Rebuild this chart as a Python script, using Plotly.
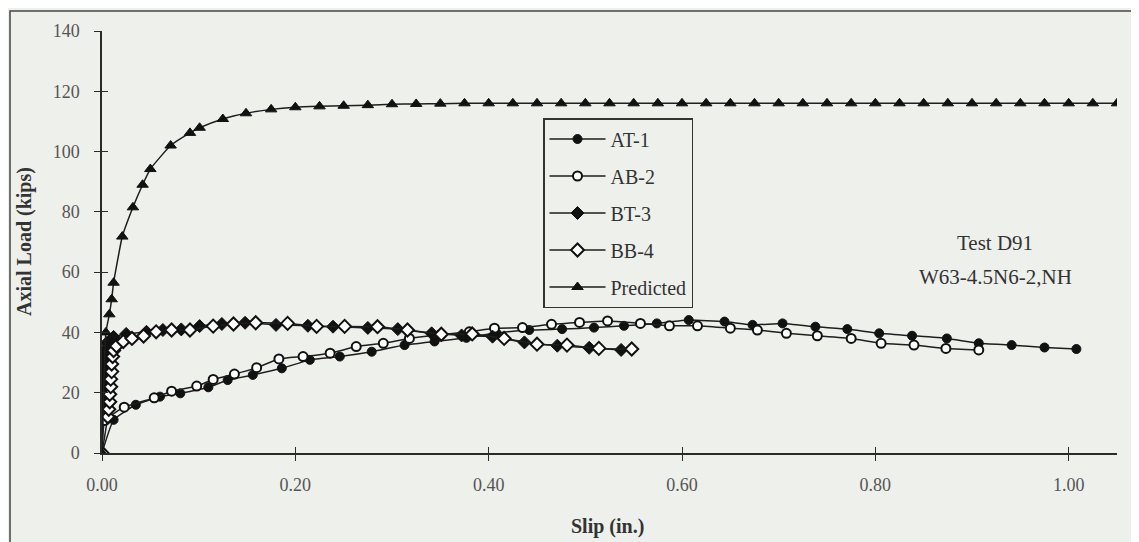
import plotly.graph_objects as go

# ---------------- data ----------------
at1_x = [0.0, 0.012, 0.035, 0.060, 0.081, 0.110, 0.130, 0.156, 0.186, 0.215, 0.246, 0.279, 0.313,
         0.344, 0.377, 0.408, 0.442, 0.476, 0.509, 0.540, 0.574, 0.607, 0.644, 0.673, 0.704, 0.738,
         0.771, 0.804, 0.838, 0.874, 0.907, 0.941, 0.975, 1.008]
at1_y = [0.0, 11.0, 16.0, 18.7, 19.8, 21.8, 24.2, 25.9, 28.1, 30.9, 32.0, 33.6, 35.8,
         37.0, 38.2, 39.8, 40.8, 41.1, 41.6, 42.2, 43.0, 44.1, 43.6, 42.5, 43.0, 41.9,
         41.1, 39.7, 38.9, 38.0, 36.4, 35.8, 35.0, 34.5]

ab2_x = [0.0, 0.003, 0.023, 0.054, 0.072, 0.098, 0.115, 0.137, 0.160, 0.183, 0.208, 0.236, 0.263,
         0.291, 0.318, 0.350, 0.380, 0.406, 0.435, 0.465, 0.494, 0.523, 0.557, 0.587, 0.616, 0.650,
         0.678, 0.708, 0.740, 0.775, 0.806, 0.840, 0.873, 0.907]
ab2_y = [0.0, 10.8, 15.2, 18.3, 20.5, 22.2, 24.4, 26.2, 28.3, 31.2, 32.0, 33.1, 35.3,
         36.4, 38.0, 39.2, 40.2, 41.4, 41.6, 42.7, 43.3, 43.8, 43.0, 42.2, 42.2, 41.4,
         40.8, 39.7, 38.9, 38.0, 36.4, 35.8, 34.7, 34.2]

bt3_x = [0.0, 0.001, 0.001, 0.001, 0.001, 0.002, 0.002, 0.002, 0.003, 0.003, 0.005, 0.012, 0.025,
         0.046, 0.063, 0.082, 0.101, 0.124, 0.148, 0.180, 0.213, 0.239, 0.275, 0.306, 0.341, 0.372,
         0.404, 0.437, 0.471, 0.504, 0.537]
bt3_y = [0.0, 14.0, 16.5, 19.0, 21.5, 24.0, 26.5, 29.0, 31.5, 34.0, 36.5, 38.5, 39.5,
         40.2, 40.8, 41.0, 42.1, 42.8, 43.2, 42.5, 42.2, 41.9, 41.5, 41.1, 39.7, 39.0,
         38.6, 36.7, 35.6, 34.9, 34.2]

bb4_x = [0.0, 0.006, 0.007, 0.008, 0.008, 0.009, 0.009, 0.010, 0.010, 0.011, 0.012, 0.015, 0.022,
         0.031, 0.043, 0.056, 0.072, 0.091, 0.115, 0.136, 0.159, 0.192, 0.222, 0.251, 0.285, 0.316,
         0.351, 0.383, 0.416, 0.450, 0.481, 0.514, 0.548]
bb4_y = [0.0, 12.0, 14.5, 17.0, 19.5, 22.0, 24.5, 27.0, 29.5, 32.0, 34.0, 35.5, 37.0,
         38.0, 38.8, 40.2, 40.8, 40.8, 42.1, 42.8, 43.2, 43.0, 42.0, 42.0, 41.9, 40.8,
         39.4, 39.5, 38.0, 36.1, 35.8, 34.7, 34.5]

pred_x = [0.0, 0.004, 0.0076, 0.010, 0.012, 0.021, 0.032, 0.042, 0.050, 0.071, 0.091, 0.101, 0.125,
          0.149, 0.175, 0.200, 0.225, 0.250, 0.275, 0.300, 0.325, 0.350, 0.375, 0.400, 0.425, 0.450,
          0.475, 0.500, 0.525, 0.550, 0.575, 0.600, 0.625, 0.650, 0.675, 0.700, 0.725, 0.750, 0.775,
          0.800, 0.825, 0.850, 0.875, 0.900, 0.925, 0.950, 0.975, 1.000, 1.025, 1.050]
pred_y = [0.0, 40.0, 46.0, 51.0, 56.5, 71.8, 81.5, 89.0, 94.2, 102.0, 106.2, 107.9, 110.8,
          112.7, 114.0, 114.7, 115.0, 115.2, 115.4, 115.7, 115.8, 115.9, 116.0, 116.0, 116.0, 116.0,
          116.0, 116.0, 116.0, 116.0, 116.0, 116.0, 116.0, 116.0, 116.0, 116.0, 116.0, 116.0, 116.0,
          116.0, 116.0, 116.0, 116.0, 116.0, 116.0, 116.0, 116.0, 116.0, 116.0, 116.0]

x_ticks = [0.0, 0.2, 0.4, 0.6, 0.8, 1.0]
x_tick_labels = ["0.00", "0.20", "0.40", "0.60", "0.80", "1.00"]
y_ticks = [0, 20, 40, 60, 80, 100, 120, 140]

# ---------------- styles ----------------
FONT = "Liberation Serif, Times New Roman, serif"
LINE_COLOR = "#1e1e1e"
BG = "#eef0ec"
TXT = "#333333"

fig = go.Figure()

def add(name, xs, ys, symbol, filled, size):
    fig.add_trace(go.Scatter(
        x=xs, y=ys, name=name, mode="lines+markers", legendgroup=name,
        line=dict(color=LINE_COLOR, width=1.5, shape="spline", smoothing=0.4),
        marker=dict(symbol=symbol, size=size,
                    color="#111111" if filled else "white",
                    line=dict(color="#111111", width=2 if not filled else 1)),
    ))

add("AT-1", at1_x, at1_y, "circle", True, 9)
add("AB-2", ab2_x, ab2_y, "circle", False, 9)
add("BT-3", bt3_x, bt3_y, "diamond", True, 10)
add("BB-4", bb4_x, bb4_y, "diamond", False, 10)
add("Predicted", pred_x, pred_y, "triangle-up", True, 10)

# invisible helper trace for cross-tick overlay axes
fig.add_trace(go.Scatter(x=[0], y=[0], xaxis="x2", yaxis="y2", mode="none",
                         showlegend=False, hoverinfo="skip"))

W, H = 1139, 542
OFF = 8  # page body margin offset
L, R, T, B = 94, 30, 23, 97
pw, ph = W - L - R, H - T - B

def px(sx):
    return (sx - OFF - L) / pw

def py(sy):
    return (H - B - (sy - OFF)) / ph

axis_common = dict(showgrid=False, zeroline=False, showline=True, linecolor="#2a2a2a",
                   linewidth=1.5, ticks="outside", ticklen=6, tickwidth=1.2, tickcolor="#2a2a2a",
                   tickfont=dict(family=FONT, size=18, color="#555555"))

fig.update_layout(
    width=W, height=H,
    margin=dict(l=L, r=R, t=T, b=B),
    paper_bgcolor=BG, plot_bgcolor=BG,
    font=dict(family=FONT, color=TXT),
    xaxis=dict(range=[0, 1.05], tickvals=x_ticks, ticktext=x_tick_labels,
               ticklabelstandoff=9, **axis_common),
    yaxis=dict(range=[0, 140], tickvals=y_ticks, ticklabelstandoff=11, **axis_common),
    xaxis2=dict(overlaying="x", matches="x", anchor="y", side="bottom", range=[0, 1.05],
                tickvals=x_ticks, ticks="inside", ticklen=6, tickwidth=1.2, tickcolor="#2a2a2a",
                showticklabels=False, showline=False, showgrid=False, zeroline=False),
    yaxis2=dict(overlaying="y", matches="y", anchor="x", side="left", range=[0, 140],
                tickvals=y_ticks, ticks="inside", ticklen=6, tickwidth=1.2, tickcolor="#2a2a2a",
                showticklabels=False, showline=False, showgrid=False, zeroline=False),
    showlegend=True,
    legend=dict(x=px(543), y=py(118), xanchor="left", yanchor="top",
                bgcolor=BG, bordercolor="#333333", borderwidth=1.5,
                font=dict(family=FONT, size=20, color=TXT),
                tracegroupgap=8, itemwidth=56),
)

# axis titles
fig.add_annotation(text="<b>Axial Load (kips)</b>", textangle=-90, xref="paper", yref="paper",
                   x=px(24), y=py(242), xanchor="center", yanchor="middle", showarrow=False,
                   font=dict(family=FONT, size=20, color=TXT))
fig.add_annotation(text="<b>Slip (in.)</b>", xref="paper", yref="paper",
                   x=px(607), y=py(526), xanchor="center", yanchor="middle", showarrow=False,
                   font=dict(family=FONT, size=20, color=TXT))
# test label
fig.add_annotation(text="Test D91", xref="paper", yref="paper",
                   x=px(995), y=py(243), xanchor="center", yanchor="middle", showarrow=False,
                   font=dict(family=FONT, size=21, color=TXT))
fig.add_annotation(text="W63-4.5N6-2,NH", xref="paper", yref="paper",
                   x=px(995), y=py(277), xanchor="center", yanchor="middle", showarrow=False,
                   font=dict(family=FONT, size=21, color=TXT))

# outer frame
fig.add_shape(type="rect", xref="paper", yref="paper",
              x0=px(10), x1=px(1135), y0=py(620), y1=py(11),
              line=dict(color="#444444", width=1.5), layer="below")

fig.write_html("out.html")
